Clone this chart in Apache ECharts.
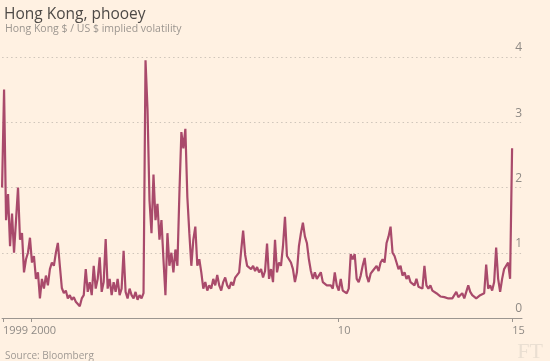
<!DOCTYPE html>
<html>
<head>
<meta charset="utf-8">
<script src="https://cdn.jsdelivr.net/npm/echarts@6/dist/echarts.min.js"></script>
<style>
html,body{margin:0;padding:0;background:#fff1e2;}
#c{width:550px;height:361px;}
</style>
</head>
<body>
<div id="c"></div>
<script>
// Series: HK$/US$ implied volatility, regularly sampled from startYear with fixed step (years)
const startYear = 1999.06;
const stepYears = 0.06491;
const vol = [
  2.0,3.5,1.5,1.9,1.1,1.6,1.0,1.5,2.0,1.2,
  1.3,0.7,0.9,1.0,1.23,0.85,0.95,0.6,0.7,0.3,
  0.6,0.45,0.65,0.5,0.75,0.85,0.8,1.0,1.15,0.8,
  0.46,0.38,0.42,0.3,0.35,0.28,0.32,0.25,0.28,0.18,
  0.3,0.35,0.75,0.4,0.55,0.35,0.8,0.45,0.6,0.93,
  0.4,0.55,1.21,0.45,0.6,0.35,0.55,0.4,0.6,0.35,
  0.45,1.03,0.4,0.3,0.45,0.35,0.3,0.4,0.28,0.35,
  0.3,0.38,3.95,3.2,1.8,1.3,2.2,1.5,1.75,1.2,
  1.5,0.9,0.35,1.3,0.8,1.0,0.7,1.05,0.8,1.9,
  2.85,2.6,2.9,1.85,1.3,0.8,1.2,1.4,0.8,0.9,
  0.7,0.45,0.55,0.42,0.5,0.45,0.6,0.5,0.66,0.5,
  0.42,0.55,0.62,0.5,0.45,0.55,0.5,0.62,0.64,0.7,
  1.03,1.34,0.97,0.8,0.78,0.75,0.8,0.72,0.78,0.7,
  0.75,0.62,0.72,1.14,0.6,0.75,0.55,1.2,0.7,0.85,
  0.8,1.1,1.55,0.95,0.9,0.85,0.75,0.55,0.7,1.1,
  1.3,1.46,1.25,1.15,0.9,0.72,0.6,0.7,0.6,0.65,
  0.7,0.55,0.55,0.5,0.48,0.5,0.45,0.7,0.5,0.42,
  0.6,0.42,0.45,0.38,0.45,0.98,0.9,0.98,0.6,0.55,
  0.65,0.8,0.92,0.65,0.55,0.68,0.72,0.75,0.8,0.72,
  0.85,0.9,0.85,1.15,1.25,1.4,1.0,0.95,0.85,0.75,
  0.8,0.65,0.7,0.6,0.65,0.55,0.58,0.5,0.6,0.48,
  0.5,0.45,0.8,0.5,0.45,0.5,0.42,0.4,0.38,0.35,
  0.33,0.3,0.32,0.35,0.3,0.33,0.3,0.32,0.4,0.32,
  0.35,0.38,0.3,0.4,0.5,0.4,0.35,0.32,0.3,0.28,
  0.35,0.38,0.38,0.82,0.45,0.5,0.42,0.55,1.08,0.6,
  0.4,0.6,0.75,0.8,0.85,0.6,
  2.6
];
const xTickValues = [1999.09, 2000, 2010, 2015.68];
const xTickLabels = ['1999', '2000', '10', '15'];
const yTicks = [0, 1, 2, 3, 4];

const data = vol.map((v, i) => [startYear + i * stepYears, v]);

const chart = echarts.init(document.getElementById('c'), null, {renderer: 'canvas'});
const grey = '#8f8a85';
chart.setOption({
  backgroundColor: '#fff1e2',
  animation: false,
  title: [
    {text: 'Hong Kong, phooey', left: -1, top: 2, textStyle: {fontFamily: 'Open Sans', fontSize: 15.5, fontWeight: 'normal', color: '#4e4a47'}},
    {text: 'Hong Kong $ / US $ implied volatility', left: 0, top: 19, textStyle: {fontFamily: 'Open Sans', fontSize: 10.5, fontWeight: 'normal', color: '#9b958f'}},
    {text: 'Source: Bloomberg', left: 0, top: 346, textStyle: {fontFamily: 'Open Sans', fontSize: 10, fontWeight: 'normal', color: '#a09a94'}},
    {text: 'FT', right: 2, top: 336, textStyle: {fontFamily: 'Liberation Serif', fontSize: 22, fontWeight: 'normal', color: '#eadfd2'}}
  ],
  grid: {left: 0, right: 28, top: 57, bottom: 43, containLabel: false},
  xAxis: {
    type: 'value', min: 1999.06, max: 2016.0,
    axisLine: {show: true, lineStyle: {color: '#9c9690', width: 1}},
    axisTick: {show: true, customValues: xTickValues, length: 4, lineStyle: {color: '#9c9690'}},
    axisLabel: {
      show: true, customValues: xTickValues, align: 'left', margin: 7,
      fontFamily: 'Open Sans', fontSize: 11, color: grey,
      formatter: v => {
        let best = 0;
        xTickValues.forEach((t, i) => { if (Math.abs(t - v) < Math.abs(xTickValues[best] - v)) best = i; });
        return xTickLabels[best];
      }
    },
    splitLine: {show: false}
  },
  yAxis: {
    type: 'value', position: 'right', min: 0, max: 4, interval: 1,
    axisLine: {show: false}, axisTick: {show: false},
    axisLabel: {inside: true, margin: 0, verticalAlign: 'bottom', padding: [0, 0, 3, 0], fontFamily: 'Open Sans', fontSize: 12, color: grey,
      formatter: v => String(yTicks[yTicks.indexOf(v)])},
    splitLine: {show: true, lineStyle: {type: [1.5, 3], color: '#cfc5ba', width: 1}}
  },
  series: [{
    type: 'line', data: data, showSymbol: false, symbol: 'none',
    lineStyle: {color: '#a94a6b', width: 2.2},
    z: 3
  }]
});
</script>
</body>
</html>
